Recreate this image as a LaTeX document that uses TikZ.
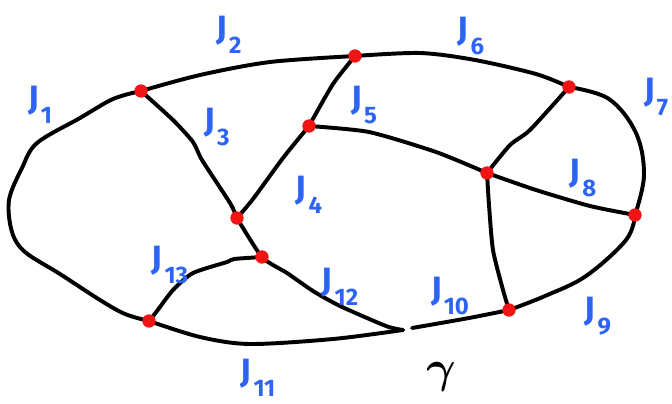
\documentclass[tikz,border=0pt]{standalone}
\usepackage{fontspec}
\setsansfont{Fira Sans}
\usepackage{xcolor}
\usepackage{tikz}
\usetikzlibrary{positioning}

\definecolor{jblue}{RGB}{45,100,245}
\definecolor{jred}{RGB}{240,20,20}
\newcommand{\jl}[1]{J\kern1.5pt\raisebox{-0.8ex}{\fontsize{17}{17}\selectfont #1}}

\begin{document}
\begin{tikzpicture}[
  x=0.025cm, y=-0.025cm,
  edge/.style={line width=2.8pt, line cap=round, line join=round},
  dot/.style={circle, fill=jred, inner sep=0pt, minimum size=9.5pt},
  lab/.style={text=jblue, font=\sffamily\bfseries\fontsize{24}{24}\selectfont, inner sep=0pt}]
  \useasboundingbox (0,0) rectangle (672,403);
  % vertices
  \coordinate (A) at (141,91);
  \coordinate (B) at (355,56);
  \coordinate (C) at (309,126);
  \coordinate (D) at (487,173);
  \coordinate (E) at (569,87);
  \coordinate (F) at (635,215);
  \coordinate (G) at (509,310);
  \coordinate (H) at (237,218);
  \coordinate (I) at (262,257);
  \coordinate (K) at (149,321);
  \coordinate (gl) at (403,330);
  \coordinate (gr) at (412,328);
  % outer loop
  \draw[edge] plot[smooth, tension=0.55] coordinates {(A) (113,99) (80,118) (37,143) (22,168) (9,200) (12,232) (25,252) (60,274) (100,300) (125,314) (K)};
  \draw[edge] plot[smooth, tension=0.5] coordinates {(A) (200,75) (270,62) (B)};
  \draw[edge] plot[smooth, tension=0.5] coordinates {(B) (420,53) (475,60) (536,74) (E)};
  \draw[edge] plot[smooth, tension=0.6] coordinates {(E) (609,99) (636,133) (644,175) (F)};
  \draw[edge] plot[smooth, tension=0.6] coordinates {(F) (626,240) (586,276) (545,296) (G)};
  \draw[edge] plot[smooth, tension=0.5] coordinates {(G) (469,318) (gr)};
  \draw[edge] plot[smooth, tension=0.5] coordinates {(gl) (333,339) (250,344) (200,337) (K)};
  % inner edges
  \draw[edge] plot[smooth, tension=0.4] coordinates {(A) (173,120) (193,142) (202,160) (230,203) (H)};
  \draw[edge] plot[smooth, tension=0.4] coordinates {(H) (253,199) (283,158) (C)};
  \draw[edge] plot[smooth, tension=0.4] coordinates {(C) (333,84) (B)};
  \draw[edge] plot[smooth, tension=0.4] coordinates {(C) (369,132) (436,152) (D)};
  \draw[edge] plot[smooth, tension=0.4] coordinates {(D) (510,145) (530,130) (E)};
  \draw[edge] plot[smooth, tension=0.4] coordinates {(D) (536,190) (590,206) (F)};
  \draw[edge] plot[smooth, tension=0.4] coordinates {(D) (489,205) (493,250) (503,290) (G)};
  \draw[edge] plot[smooth, tension=0.4] coordinates {(H) (I) (287,273) (313,291) (340,306) (386,326) (gl)};
  \draw[edge] plot[smooth, tension=0.4] coordinates {(K) (157,311) (173,290) (193,273) (227,262) (234,259) (I)};
  % red dots
  \foreach \v in {A,B,C,D,E,F,G,H,I,K}
    \node[dot] (d\v) at (\v) {};
  % labels
  \node[lab] (j1)  at (40,105)  {\jl{1}};
  \node[lab] (j2)  at (229,35)  {\jl{2}};
  \node[lab] (j3)  at (217,127) {\jl{3}};
  \node[lab] (j4)  at (309,195) {\jl{4}};
  \node[lab] (j5)  at (364,105) {\jl{5}};
  \node[lab] (j6)  at (471,36)  {\jl{6}};
  \node[lab] (j7)  at (656,97)  {\jl{7}};
  \node[lab] (j8)  at (583,178) {\jl{8}};
  \node[lab] (j9)  at (598,316) {\jl{9}};
  \node[lab] (j10) at (450,296) {\jl{10}};
  \node[lab] (j11) at (258,378) {\jl{11}};
  \node[lab] (j12) at (340,287) {\jl{12}};
  \node[lab] (j13) at (170,265) {\jl{13}};
  \node[inner sep=0pt] (gam) at (441,377) {\scalebox{3.2}{\boldmath$\gamma$}};
\end{tikzpicture}
\end{document}
